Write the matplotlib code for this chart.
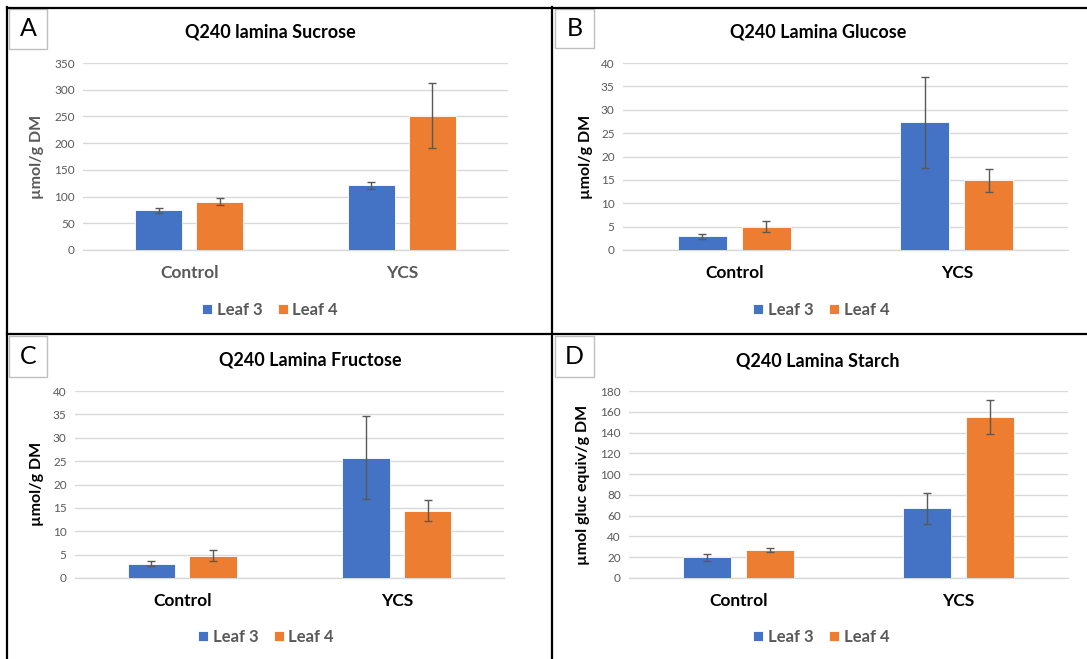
import numpy as np
import matplotlib
matplotlib.use("Agg")
from matplotlib import pyplot as plt
from matplotlib.lines import Line2D
from matplotlib.patches import Rectangle

plt.rcParams['font.family'] = ['Lato', 'DejaVu Sans']

categories = ["Control", "YCS"]
series = ["Leaf 3", "Leaf 4"]

# sucrose (umol/g DM)
suc_leaf3 = [74, 121]
suc_leaf4 = [90, 251]
suc_err3 = [4.3, 6.5]
suc_err4 = [6.5, 61]

# glucose
glu_leaf3 = [2.9, 27.3]
glu_leaf4 = [5.0, 14.9]
glu_err3 = [0.5, 9.7]
glu_err4 = [1.2, 2.5]

# fructose
fru_leaf3 = [3.1, 25.7]
fru_leaf4 = [4.8, 14.4]
fru_err3 = [0.6, 8.9]
fru_err4 = [1.2, 2.3]

# starch (umol gluc equiv/g DM)
sta_leaf3 = [20, 67]
sta_leaf4 = [27, 155]
sta_err3 = [3.4, 15]
sta_err4 = [2, 16.3]

BLUE = "#4472C4"
ORANGE = "#ED7D31"
GREY = "#595959"
GRID = "#D9D9D9"

W, H = 1087, 659
fig = plt.figure(figsize=(W / 100, H / 100), dpi=100)


def ax_at(x0, y0, x1, y1):
    return fig.add_axes([x0 / W, 1 - y1 / H, (x1 - x0) / W, (y1 - y0) / H])


def panel(box, l3, l4, e3, e4, ymax, step, title, tpos, ylabel, ypos, legpos,
          letter, lbox, txtcol):
    ax = ax_at(*box)
    x = np.arange(len(categories))
    w = 0.22
    off = 0.1435
    b1 = ax.bar(x - off, l3, w, color=BLUE, edgecolor="white", lw=0.6, zorder=3, label=series[0])
    b2 = ax.bar(x + off, l4, w, color=ORANGE, edgecolor="white", lw=0.6, zorder=3, label=series[1])
    ax.errorbar(x - off, l3, yerr=e3, fmt="none", ecolor=GREY, elinewidth=1, capsize=3, zorder=4)
    ax.errorbar(x + off, l4, yerr=e4, fmt="none", ecolor=GREY, elinewidth=1, capsize=3, zorder=4)
    ax.set_xlim(-0.5, 1.5)
    ax.set_ylim(0, ymax)
    ax.set_yticks(np.arange(0, ymax + step / 2, step))
    ax.yaxis.grid(True, color=GRID, lw=1, zorder=0)
    for s in ["top", "right", "left"]:
        ax.spines[s].set_visible(False)
    ax.spines["bottom"].set_color(GRID)
    ax.spines["bottom"].set_linewidth(1)
    ax.set_xticks(x)
    ax.set_xticklabels(categories, fontsize=12.5, fontweight="bold", color=txtcol)
    ax.tick_params(axis="x", length=0, pad=11)
    ax.tick_params(axis="y", length=0, labelsize=8.5, labelcolor=GREY, pad=6)
    ax.set_facecolor("none")

    fig.text(tpos[0] / W, 1 - tpos[1] / H, title, ha="center", va="center",
             fontsize=13, fontweight="bold", color="black")
    fig.text(ypos[0] / W, 1 - ypos[1] / H, ylabel, ha="center", va="center",
             rotation=90, fontsize=11.5, fontweight="bold", color=txtcol)
    fig.legend([b1, b2], series, loc="center", bbox_to_anchor=(legpos[0] / W, 1 - legpos[1] / H),
               ncol=2, frameon=False, handlelength=0.6, handleheight=0.6,
               handletextpad=0.3, columnspacing=0.9,
               prop={"weight": "bold", "size": 12}, labelcolor=GREY)

    x0, y0, x1, y1 = lbox
    fig.add_artist(Rectangle((x0 / W, 1 - y1 / H), (x1 - x0) / W, (y1 - y0) / H,
                             transform=fig.transFigure, facecolor="white",
                             edgecolor="#BFBFBF", lw=1))
    fig.text((x0 + x1) / 2 / W, 1 - (y0 + y1) / 2 / H, letter, ha="center", va="center",
             fontsize=18, color="black")
    return ax


panel((83, 63, 508, 250), suc_leaf3, suc_leaf4, suc_err3, suc_err4, 350, 50,
      "Q240 lamina Sucrose", (270, 32), "µmol/g DM", (37, 157), (270, 310),
      "A", (9, 9, 47, 49), GREY)
panel((623, 63, 1068, 250), glu_leaf3, glu_leaf4, glu_err3, glu_err4, 40, 5,
      "Q240 Lamina Glucose", (818, 32), "µmol/g DM", (586, 157), (821, 310),
      "B", (555, 9, 594, 48), "black")
panel((75, 391, 504, 578), fru_leaf3, fru_leaf4, fru_err3, fru_err4, 40, 5,
      "Q240 Lamina Fructose", (310, 360), "µmol/g DM", (37, 484), (266, 637),
      "C", (9, 336, 47, 377), "black")
panel((629, 391, 1068, 578), sta_leaf3, sta_leaf4, sta_err3, sta_err4, 180, 20,
      "Q240 Lamina Starch", (818, 361), "µmol gluc equiv/g DM", (583, 485), (821, 637),
      "D", (555, 336, 594, 377), "black")

# panel frame lines
def fline(xs, ys):
    fig.add_artist(Line2D([v / W for v in xs], [1 - v / H for v in ys],
                          transform=fig.transFigure, color="black", lw=1.6))

fline([7, 7], [7, 659])
fline([7, 1087], [7.5, 7.5])
fline([552, 552], [7, 659])
fline([7, 1087], [334, 334])

fig.savefig("out.png", dpi=100, facecolor="white")
